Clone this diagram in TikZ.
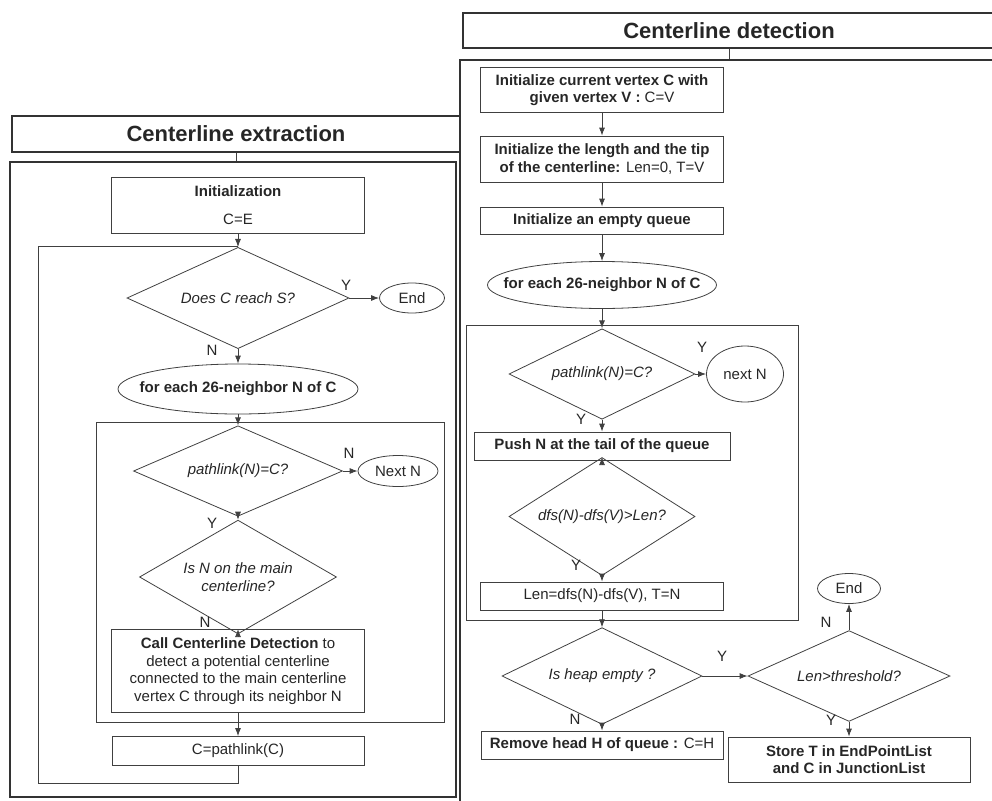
\documentclass[tikz,border=0pt]{standalone}
\usepackage{fontspec}
\setmainfont{Liberation Sans}
\usetikzlibrary{shapes.geometric}
\usetikzlibrary{arrows.meta}
\tikzset{
  box/.style = {draw=black!75, line width=0.8pt, rectangle, inner sep=0pt, align=center},
  test/.style = {draw=black!75, line width=0.8pt, diamond, inner sep=-6pt, align=center, font=\fontsize{15}{17.5}\selectfont\itshape},
  term/.style = {draw=black!75, line width=0.8pt, ellipse, inner sep=0pt},
  forall/.style = {term, inner xsep=-25pt, font=\fontsize{15}{17.5}\selectfont\bfseries},
  panel/.style = {draw=black!80, line width=1.8pt, rectangle, inner sep=0pt},
  heading/.style = {panel, font=\fontsize{22}{26}\selectfont\bfseries},
  flow/.style = {draw=black!75, line width=0.8pt, -{Latex[length=8pt,width=6pt]}},
  wire/.style = {draw=black!75, line width=0.8pt}
}

\begin{document}
\begin{tikzpicture}[x=1pt, y=-1pt, every node/.append style={font=\fontsize{15}{17.5}\selectfont, text=black!85}]
\useasboundingbox (0,0) rectangle (992,800);
\clip (0,0) rectangle (992,800);

% Centerline extraction
\node[heading, minimum width=448, minimum height=36] (headL) at (236,134) {Centerline extraction};
\node[panel, minimum width=446, minimum height=635] (panelL) at (233,479.5) {};
\draw[wire] (headL.south) -- (headL.south |- panelL.north);
\node[box, minimum width=348, minimum height=300] (innerL) at (270,572) {};

\node[box, minimum width=253, minimum height=56] (init) at (238,205) {\textbf{Initialization}\\[11pt]C=E};
\node[test, minimum width=222, minimum height=84] (reach) at (238,298) {Does C reach S?};
\node[term, minimum width=65, minimum height=30] (endL) at (412,298) {End};
\node[forall, minimum width=240, minimum height=50] (eachL) at (238,389) {for each 26-neighbor N of C};
\node[test, minimum width=209, minimum height=71] (linkL) at (238,471) {pathlink(N)=C?};
\node[term, minimum width=80, minimum height=31] (nextL) at (398,471) {Next N};
\node[test, minimum width=197, minimum height=63] (onmain) at (238,577) {Is N on the main\\centerline?};
\node[box, minimum width=253, minimum height=83] (call) at (238,671) {\textbf{Call Centerline Detection} to\\detect a potential centerline\\connected to the main centerline\\vertex C through its neighbor N};
\node[box, minimum width=252, minimum height=29] (advance) at (238,751) {C=pathlink(C)};

\draw[flow] (init) -- (reach);
\draw[flow] (reach) -- (endL);
\draw[flow] (reach) -- (eachL);
\draw[flow] (eachL) -- (linkL);
\draw[flow] (linkL) -- (nextL);
\draw[flow] (linkL) -- (onmain);
\draw[flow] (onmain) -- (call);
\draw[flow] (call) -- (advance);
\coordinate (backL) at (38,783);
\coordinate (joinL) at (238,246);
\draw[wire] (advance.south) |- (backL) |- (joinL);

\node (yReach) at (346,285) {Y};
\node (nReach) at (212,350) {N};
\node (nLink) at (349,453) {N};
\node (yLink) at (212,523) {Y};
\node (nMain) at (205,622) {N};

% Centerline detection
\node[heading, minimum width=532, minimum height=35] (headR) at (729,30.5) {Centerline detection};
\node[panel, minimum width=560, minimum height=760] (panelR) at (740,440) {};
\draw[wire] (headR.south) -- (headR.south |- panelR.north);
\node[box, minimum width=332, minimum height=295] (innerR) at (632,472.5) {};

\node[box, minimum width=243, minimum height=45] (setC) at (602,90) {\textbf{Initialize current vertex C with}\\\textbf{given vertex V :} C=V};
\node[box, minimum width=243, minimum height=46] (setLen) at (602,159) {\textbf{Initialize the length and the tip}\\\textbf{of the centerline:} Len=0, T=V};
\node[box, minimum width=243, minimum height=27] (queue) at (602,220.5) {\textbf{Initialize an empty queue}};
\node[forall, minimum width=229, minimum height=47] (eachR) at (602,285) {for each 26-neighbor N of C};
\node[test, minimum width=186, minimum height=70] (linkR) at (602,374) {pathlink(N)=C?};
\node[term, minimum width=77, minimum height=56] (nextR) at (745,374) {next N};
\node[box, minimum width=256, minimum height=28] (push) at (602,446) {\textbf{Push N at the tail of the queue}};
\node[test, minimum width=186, minimum height=69] (longer) at (602,516.5) {dfs(N)-dfs(V)>Len?};
\node[box, minimum width=243, minimum height=28] (update) at (602,596) {Len=dfs(N)-dfs(V), T=N};
\node[test, minimum width=200, minimum height=68] (empty) at (602,676) {Is heap empty ?};
\node[test, minimum width=202, minimum height=69] (thresh) at (849,676) {Len>threshold?};
\node[term, minimum width=63, minimum height=30] (endR) at (849,588.5) {End};
\node[box, minimum width=242, minimum height=45] (store) at (849,759.5) {\textbf{Store T in EndPointList}\\\textbf{and C in JunctionList}};
\node[box, minimum width=242, minimum height=28] (pop) at (602,745) {\textbf{Remove head H of queue :} C=H};

\draw[flow] (setC) -- (setLen);
\draw[flow] (setLen) -- (queue);
\draw[flow] (queue) -- (eachR);
\draw[flow] (eachR) -- (linkR);
\draw[flow] (linkR) -- (nextR);
\draw[flow] (linkR) -- (push);
\draw[flow] (push) -- (longer);
\draw[flow] (longer) -- (update);
\draw[flow] (update) -- (empty);
\draw[flow] (empty) -- (thresh);
\draw[flow] (empty) -- (pop);
\draw[flow] (thresh) -- (endR);
\draw[flow] (thresh) -- (store);

\node (yLinkR) at (702,347) {Y};
\node (yPush) at (581,419) {Y};
\node (yLonger) at (576,565) {Y};
\node (yEmpty) at (722,656) {Y};
\node (nThresh) at (826,622) {N};
\node (yThresh) at (831,720) {Y};
\node (nEmpty) at (575,719) {N};
\end{tikzpicture}
\end{document}
